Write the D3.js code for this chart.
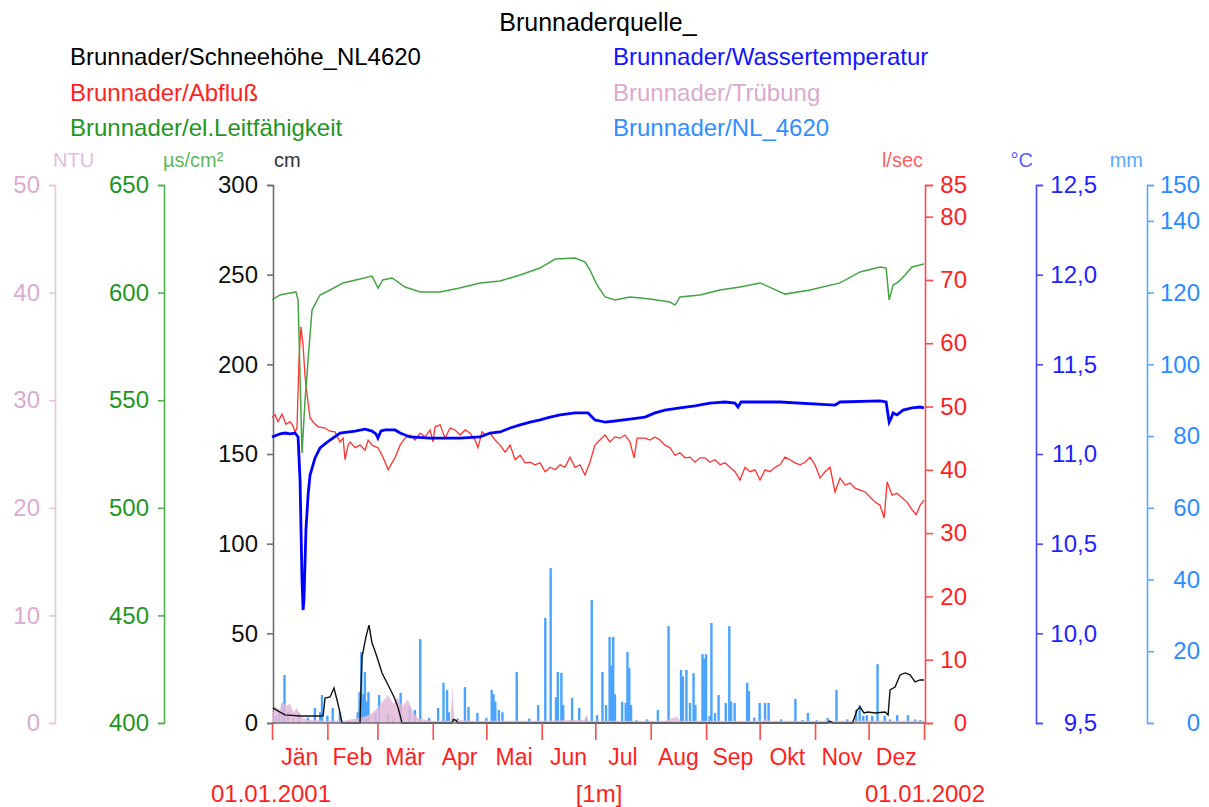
<!DOCTYPE html>
<meta charset="utf-8">
<style>
body { margin: 0; background: #fff; }
svg { display: block; font-family: "Liberation Sans", Arial, sans-serif; }
</style>
<svg width="1209" height="807"></svg>
<script src="https://cdn.jsdelivr.net/npm/d3@7"></script>
<script>

// ---- data (day of year 2001, value) ----
var monthNames = ["Jän","Feb","Mär","Apr","Mai","Jun","Jul","Aug","Sep","Okt","Nov","Dez"];

var legendLeft = [
  {name: "Brunnader/Schneehöhe_NL4620", color: "#000000"},
  {name: "Brunnader/Abfluß", color: "#ff2222"},
  {name: "Brunnader/el.Leitfähigkeit", color: "#1f961f"}
];
var legendRight = [
  {name: "Brunnader/Wassertemperatur", color: "#1414ff"},
  {name: "Brunnader/Trübung", color: "#dbaacd"},
  {name: "Brunnader/NL_4620", color: "#2f8fff"}
];

// snow depth, cm
var snowDays = [0.5,4.5,7.3,15.7,26.9,28.6,29.7,32.5,34.7,36.4,38.1,39.2,49.3,49.8,50.4,52.6,54.3,56,57.7,59.3,61.6,65,68.3,70.5,72.8,100.8,101.5,103,104,311,312,314,325,326.4,327.5,329.2,331.4,333.7,337.6,343.2,344.9,346,348.8,351.6,354.4,357.2,360,362.8,365];
var snowVals = [8.4,6.1,4.5,3.9,3.9,4,13.9,14.5,19.5,12.8,5.6,0,0,20,36.8,48,54.6,44.6,40,35.1,27.9,21.2,14.5,8.9,0,0,2,1.5,0,0,1,0,0,4,7.2,8.9,5.6,6.1,5.6,6.1,4.5,18.4,20,26.8,27.9,26.8,22.9,24,24];

// discharge, l/sec
var flowDays = [0,1.7,3.4,5.6,7.8,10.1,11.8,12.9,14,15.1,16.2,17.4,18.5,20.2,21.3,23.5,25.8,29.7,32.5,35.3,38.1,39.8,40.9,42.6,43.7,46.5,49.3,52.1,53.8,56,59.3,61.6,63.3,65,67.2,68.9,71.7,74.5,77.3,80.1,82.9,85.7,88.5,90.1,91.3,94.1,96.9,99.7,102.5,105.3,108.1,110.9,113.7,115.3,117.6,119.3,122.1,124.9,127.7,130.5,133.3,136.1,138.9,141.7,144.5,147.2,150.1,152.9,155.7,158.5,161.3,164,166.8,169.6,172.4,175.2,178,180.8,183.6,186.4,189.2,192,194.8,197.6,200.4,202.7,204.4,208.8,211.6,214.4,217.2,220,222.8,225.6,228.4,231.2,234,236.8,239.6,242.4,245.2,248,250.8,253.6,256.4,259.2,262,264.8,267.6,270.4,273.2,276,278.8,281.6,284.4,287.2,290,292.8,295.6,298.4,301.2,304,306.8,309.6,312.4,315.2,318,320.8,323.6,326.4,329.2,332,334.8,337.6,340.4,342.7,344.4,347.1,349.9,352.7,355.5,358.3,360.6,362.8,365];
var flowVals = [48.2,48.7,47.6,48.8,47.2,47.6,46.9,46.0,46.6,57.4,62.6,59.7,54.7,50.6,48.2,47.4,46.8,46.6,46.1,46.0,44.4,45.0,41.6,43.9,44.4,43.5,43.9,43.1,44.7,43.9,43.5,42.3,41.2,40.0,41.1,41.9,43.9,45.0,45.5,44.7,45.8,45.2,46.3,44.4,46.8,47.1,45.0,46.6,46.3,45.5,46.3,45.8,44.7,43.5,46.0,45.5,45.8,44.7,43.9,42.8,43.9,41.6,42.3,41.1,41.2,40.8,41.1,39.7,40.4,40.0,40.8,40.4,42.0,40.4,40.8,39.2,41.2,43.9,44.7,45.5,44.4,45.2,45.0,45.5,44.4,41.9,45.0,45.0,44.7,45.2,44.7,43.9,43.5,42.3,42.7,41.9,42.0,41.2,41.9,41.9,41.2,41.6,40.8,41.1,40.4,39.7,38.4,40.4,39.7,40.0,38.4,40.0,39.7,40.4,40.8,42.0,41.6,41.1,40.8,41.2,42.0,40.8,38.7,39.7,40.4,36.5,38.7,37.6,37.9,37.1,36.8,36.5,35.7,34.9,34.4,32.4,38.1,36.0,36.3,35.6,34.9,33.7,32.9,34.4,35.2];

// conductivity, µS/cm²
var condDays = [0,4.5,10,13.4,14.6,16.8,18.5,20.2,22.4,26.9,32.5,39.8,49.3,56,59.4,62,67.2,74.5,82.9,94,105,116.5,127.7,138.9,150,158.5,169.7,175.3,178,182,186.5,192,200.4,211.6,222.8,225.6,228.4,239.6,250.8,262,273.2,287.2,301.2,318,329.2,340.4,343.8,345.5,347.7,350.5,354.4,358.3,365];
var condVals = [596.6,598.9,599.8,600.3,596.6,525.5,550,568.7,591.9,598.9,601.2,604.5,606.3,607.7,602.1,605.9,606.8,602.6,600.3,600.3,602.1,604.5,605.4,608.2,611.4,615.6,616.1,614.2,610.5,603.5,598,596.6,598,597,595.6,594.2,598,598.9,601.2,602.6,604.5,599.3,601.2,604.5,609.6,611.9,611.4,596.6,603.5,604.9,608.2,611.9,613.3];

// water temperature, °C
var tempDays = [0,4.5,7.3,10.1,12.9,14.6,15.7,16.8,17.4,17.9,19,20.2,21.3,24.1,26.9,29.7,32.5,38.1,46.5,52.1,56,58.2,59.3,61,63.3,68.9,71.7,77.3,88.5,105.3,116.5,122.1,127.7,133.3,138.9,144.5,150.1,155.7,161.3,169.6,176.9,180.8,183.6,186.4,192,200.4,208.8,214.4,220,228.4,236.8,245.2,253.6,259.2,260.9,262.6,284.4,315.2,318,340.4,343.8,345.5,346.6,347.7,349.9,353.3,358.3,362.8,365];
var tempVals = [11.095,11.112,11.117,11.112,11.117,11.095,10.855,10.297,10.13,10.186,10.576,10.771,10.883,10.978,11.034,11.056,11.078,11.117,11.128,11.139,11.128,11.112,11.089,11.128,11.134,11.134,11.117,11.095,11.089,11.089,11.095,11.117,11.123,11.145,11.162,11.178,11.19,11.206,11.218,11.229,11.229,11.19,11.184,11.178,11.184,11.195,11.206,11.229,11.245,11.257,11.268,11.284,11.29,11.284,11.262,11.29,11.29,11.273,11.29,11.296,11.29,11.178,11.2,11.229,11.218,11.245,11.257,11.262,11.257];

// turbidity, NTU
var turbDays = [0,2,4,6,8,10,12,14,16,20,30,40,50,55,58,62,65,68,70,73,76,79,82,90,100,101,102,110,150,175,176,177,220,227,228,275,277,278,365];
var turbVals = [0.8,1.5,1.2,2.0,1.6,1.8,1.0,1.4,0.6,0.3,0.2,0.2,0.5,0.8,1.2,2.0,2.6,1.8,2.4,1.5,2.2,1.0,0.4,0.2,0.2,3.5,0.3,0.2,0.2,0.3,0.8,0.2,0.2,0.6,0.2,0.2,0.5,0.2,0.2];

// precipitation, mm per day
var rainDays = [2,4,6,7,9,12,15,20,24,27,28,31,34,38,48,49,50,51,52,53,54,58,60,65,68,72,77,80,83,88,93,96,98,99,104,108,110,115,120,123,124,125,127,129,137,144,149,153,156,159,160,162,163,168,172,176,179,182,185,187,189,190,191,192,196,198,199,200,201,204,210,216,222,229,230,232,234,236,237,241,242,243,245,246,248,250,254,256,257,259,266,267,270,273,276,278,285,293,297,300,305,311,316,322,327,329,331,333,336,339,343,346,350,356,360,363];
var rainVals = [2,3,5.6,13.4,3,1.5,2.8,1.5,4.2,3,7.8,2,4.2,3,3,8.6,19.8,8,14.2,6,8.6,2.8,7.8,2.8,1.5,8.4,4.5,3.6,23.4,1.4,4.2,11.2,9.2,3,1.2,10,4.5,2.8,1.5,9.2,8,6,3.6,3,14.2,1.2,5,29.3,43.2,7.2,14.2,14,5,7,4.2,1.5,34.3,2.2,14.2,5,24,16,24,8,5.9,5.6,19.8,15.3,5,0.8,1,3.6,27,14.8,13,14.8,5.6,13.9,5,19.2,18,19.2,2,27.9,2.8,7.8,5.6,27,6,5.6,11.2,8.9,1.5,5.6,5.6,5.6,1,6.7,0.8,2.8,0.8,1.4,9.2,1,3.6,5,2,2.2,2,16.4,2,1,2.2,2.2,1,0.8];

// ---- chart ----
var svg = d3.select("svg");
var yTop = 185, yBottom = 723;
var start = Date.UTC(2001, 0, 1), end = Date.UTC(2002, 0, 1);
var toDate = function(d) { return new Date(start + d * 864e5); };

var x = d3.scaleUtc().domain([new Date(start), new Date(end)]).range([272, 924]);
var yCm = d3.scaleLinear().domain([0, 300]).range([yBottom, yTop]);
var yNtu = d3.scaleLinear().domain([0, 50]).range([yBottom, yTop]);
var yUs = d3.scaleLinear().domain([400, 650]).range([yBottom, yTop]);
var yLs = d3.scaleLinear().domain([0, 85]).range([yBottom, yTop]);
var yC = d3.scaleLinear().domain([9.5, 12.5]).range([yBottom, yTop]);
var yMm = d3.scaleLinear().domain([0, 150]).range([yBottom, yTop]);

function zip(days, vals) {
  return days.map(function(d, i) { return {t: toDate(d), v: vals[i]}; });
}

// title + legend
svg.append("text").attr("x", 598).attr("y", 31).attr("text-anchor", "middle")
  .attr("font-size", 25).text("Brunnaderquelle_");
legendLeft.forEach(function(l, i) {
  svg.append("text").attr("x", 70).attr("y", 65 + i * 35.5).attr("font-size", 24)
    .attr("fill", l.color).text(l.name);
});
legendRight.forEach(function(l, i) {
  svg.append("text").attr("x", 613).attr("y", 65 + i * 35.5).attr("font-size", 24)
    .attr("fill", l.color).text(l.name);
});

// axes
function styleAxis(g, line, txt, labelX, anchor) {
  g.attr("font-size", 24).attr("font-family", null);
  g.select(".domain").attr("stroke", line).attr("stroke-width", 1.6);
  g.selectAll(".tick line").attr("stroke", line).attr("stroke-width", 1.6);
  g.selectAll(".tick text").attr("fill", txt);
  if (labelX != null) g.selectAll(".tick text").attr("x", labelX).attr("text-anchor", anchor);
}
function unit(txt, xPos, anchor, color) {
  svg.append("text").attr("x", xPos).attr("y", 167).attr("text-anchor", anchor)
    .attr("font-size", 20).attr("fill", color).text(txt);
}

var g;
g = svg.append("g").attr("transform", "translate(55,0)")
  .call(d3.axisLeft(yNtu).tickValues([0,10,20,30,40,50]).tickSize(6).tickPadding(9));
styleAxis(g, "#e6c6de", "#dcabd0");
unit("NTU", 53, "start", "#e3bedb");

g = svg.append("g").attr("transform", "translate(164,0)")
  .call(d3.axisLeft(yUs).tickValues([400,450,500,550,600,650]).tickSize(6).tickPadding(9));
styleAxis(g, "#4fb04f", "#1f961f");
unit("µs/cm²", 163, "start", "#5cb85c");

g = svg.append("g").attr("transform", "translate(273,0)")
  .call(d3.axisLeft(yCm).tickValues([0,50,100,150,200,250,300]).tickSize(6).tickPadding(9));
styleAxis(g, "#6e6e6e", "#111");
unit("cm", 274, "start", "#333");

var comma = function(v) { return d3.format(".1f")(v).replace(".", ","); };

g = svg.append("g").attr("transform", "translate(925,0)")
  .call(d3.axisRight(yLs).tickValues([0,10,20,30,40,50,60,70,80,85]).tickSize(8));
styleAxis(g, "#ff4a4a", "#ff1f1f", 42, "end");
unit("l/sec", 923, "end", "#ff6060");

g = svg.append("g").attr("transform", "translate(1036,0)")
  .call(d3.axisRight(yC).tickValues([9.5,10,10.5,11,11.5,12,12.5]).tickFormat(comma).tickSize(7));
styleAxis(g, "#4848ff", "#1f1fff", 61, "end");
unit("°C", 1033, "end", "#5a5aff");

g = svg.append("g").attr("transform", "translate(1147,0)")
  .call(d3.axisRight(yMm).tickValues([0,20,40,60,80,100,120,140,150]).tickSize(7));
styleAxis(g, "#5aa9ff", "#2b8cff", 53, "end");
unit("mm", 1143, "end", "#5aa9ff");

// precipitation bars
var rain = zip(rainDays, rainVals);
svg.append("g").selectAll("rect").data(rain).enter().append("rect")
  .attr("x", function(d) { return x(d.t) - 1.2; })
  .attr("width", 2.4)
  .attr("y", function(d) { return yMm(d.v); })
  .attr("height", function(d) { return yBottom - yMm(d.v); })
  .attr("fill", "#4aa4ff");

// turbidity
var turb = zip(turbDays, turbVals);
svg.append("path").datum(turb)
  .attr("d", d3.area().x(function(d) { return x(d.t); }).y0(yBottom).y1(function(d) { return yNtu(d.v); }))
  .attr("fill", "#e4b8d8").attr("opacity", 0.85);

// snow
svg.append("path").datum(zip(snowDays, snowVals))
  .attr("d", d3.line().x(function(d) { return x(d.t); }).y(function(d) { return yCm(d.v); }))
  .attr("fill", "none").attr("stroke", "#111").attr("stroke-width", 1.4);

// discharge
svg.append("path").datum(zip(flowDays, flowVals))
  .attr("d", d3.line().x(function(d) { return x(d.t); }).y(function(d) { return yLs(d.v); }))
  .attr("fill", "none").attr("stroke", "#ff3030").attr("stroke-width", 1.3);

// conductivity
svg.append("path").datum(zip(condDays, condVals))
  .attr("d", d3.line().x(function(d) { return x(d.t); }).y(function(d) { return yUs(d.v); }))
  .attr("fill", "none").attr("stroke", "#44a444").attr("stroke-width", 1.5);

// water temperature
svg.append("path").datum(zip(tempDays, tempVals))
  .attr("d", d3.line().x(function(d) { return x(d.t); }).y(function(d) { return yC(d.v); }))
  .attr("fill", "none").attr("stroke", "#0000ff").attr("stroke-width", 2.8);

// time axis
svg.append("line").attr("x1", 272).attr("x2", 925).attr("y1", yBottom).attr("y2", yBottom)
  .attr("stroke", "#6e6e6e").attr("stroke-width", 1.6);
var monthStarts = d3.utcMonth.range(new Date(start), new Date(end + 1));
g = svg.append("g").attr("transform", "translate(0," + yBottom + ")")
  .call(d3.axisBottom(x).tickValues(monthStarts).tickSize(17).tickFormat(""));
g.select(".domain").remove();
g.selectAll(".tick line").attr("stroke", "#ff4a4a").attr("stroke-width", 1.6);

svg.append("g").selectAll("text").data(monthNames).enter().append("text")
  .attr("x", function(d, i) { return (x(monthStarts[i]) + x(monthStarts[i + 1])) / 2; })
  .attr("y", 765).attr("text-anchor", "middle").attr("font-size", 23)
  .attr("fill", "#ff1f1f").text(function(d) { return d; });

svg.append("text").attr("x", 271).attr("y", 802).attr("text-anchor", "middle")
  .attr("font-size", 24).attr("fill", "#ff1f1f").text("01.01.2001");
svg.append("text").attr("x", 599).attr("y", 802).attr("text-anchor", "middle")
  .attr("font-size", 24).attr("fill", "#ff1f1f").text("[1m]");
svg.append("text").attr("x", 925).attr("y", 802).attr("text-anchor", "middle")
  .attr("font-size", 24).attr("fill", "#ff1f1f").text("01.01.2002");

</script>
